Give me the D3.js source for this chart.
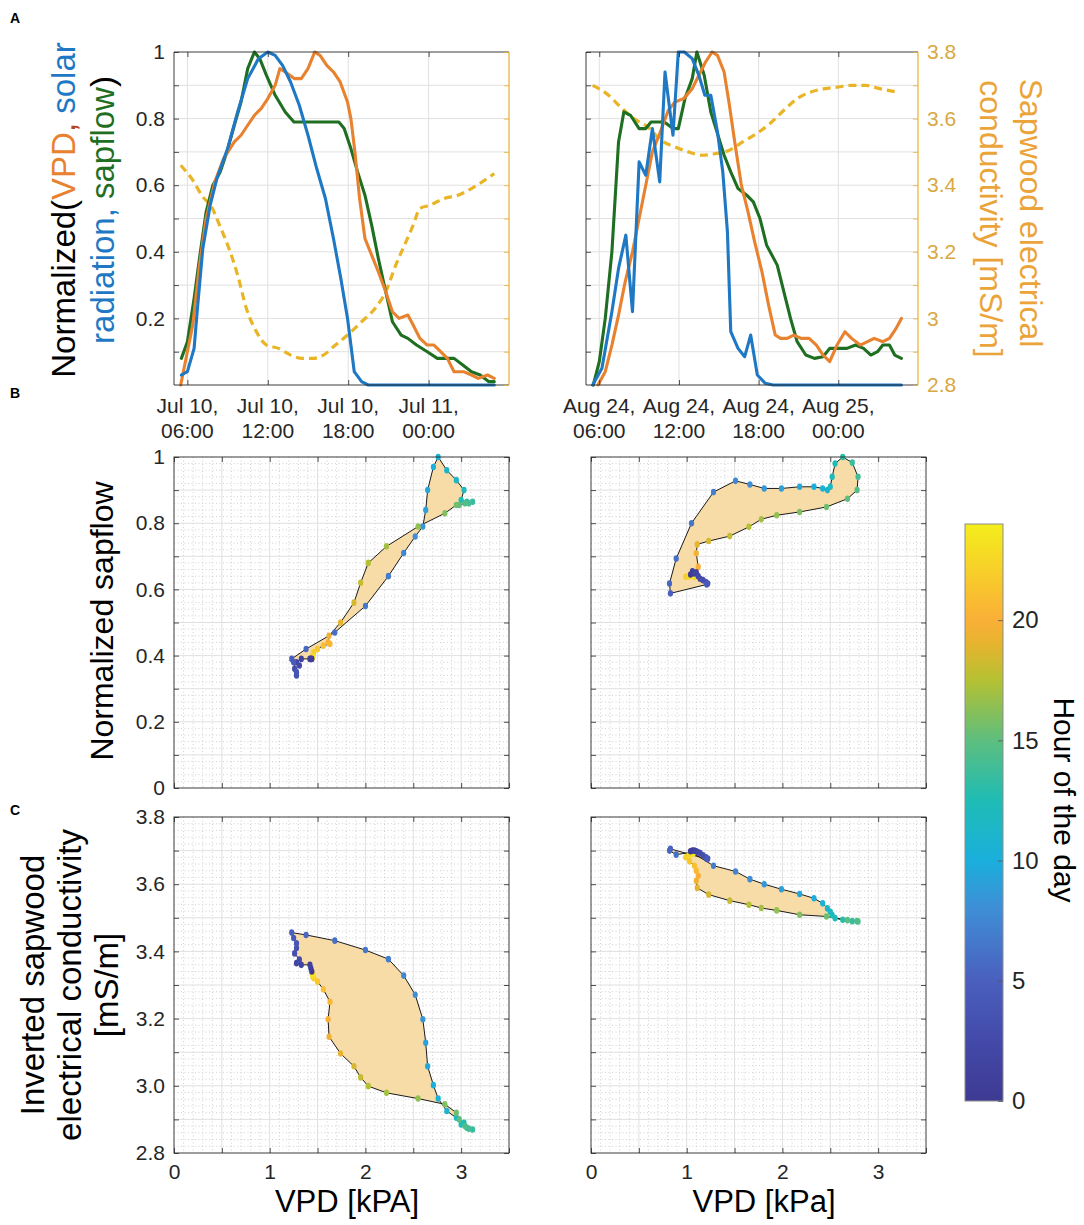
<!DOCTYPE html>
<html>
<head>
<meta charset="utf-8">
<title>Sapflow hysteresis</title>
<script src="https://cdnjs.cloudflare.com/ajax/libs/d3/7.8.5/d3.min.js"></script>
<style>
  body { margin: 0; background: #fff; }
  text { font-family: "Liberation Sans", Arial, Helvetica, sans-serif; }
</style>
</head>
<body>
<script>
// ---- time series, panel A (hour since midnight of the first day, value) ----
var julFlow = [[5.55,0.08],[6,0.13],[6.5,0.26],[6.9,0.38],[7.4,0.52],[7.9,0.6],[8.45,0.64],[8.95,0.7],[9.5,0.78],[10,0.85],[10.5,0.95],[11,1.0],[11.4,0.98],[11.9,0.93],[12.55,0.87],[13.3,0.82],[13.95,0.79],[14.6,0.79],[15.4,0.79],[16.4,0.79],[17.3,0.79],[17.7,0.77],[18.2,0.71],[18.7,0.64],[19.25,0.57],[19.75,0.48],[20.25,0.38],[20.8,0.28],[21.3,0.19],[21.95,0.15],[22.45,0.14],[23.1,0.12],[23.9,0.1],[24.65,0.08],[25.4,0.08],[25.9,0.08],[26.55,0.06],[27.2,0.04],[27.85,0.03],[28.5,0.01],[28.9,0.01]];
var julVpdNorm = [[5.5,0],[6.4,0.18],[6.9,0.36],[7.4,0.5],[8.05,0.61],[8.7,0.68],[9.5,0.73],[10,0.75],[10.5,0.78],[11,0.81],[11.5,0.83],[12,0.86],[12.55,0.9],[12.9,0.95],[13.3,0.94],[14,0.92],[14.5,0.92],[15,0.95],[15.5,1.0],[15.9,0.99],[16.4,0.96],[16.9,0.94],[17.4,0.91],[17.95,0.85],[18.2,0.8],[18.5,0.7],[18.85,0.56],[19.25,0.44],[19.75,0.39],[20.25,0.34],[20.8,0.28],[21.3,0.22],[21.8,0.2],[22.45,0.21],[22.85,0.18],[23.35,0.14],[23.9,0.12],[24.4,0.12],[24.9,0.1],[25.4,0.08],[25.9,0.04],[26.6,0.04],[27.2,0.03],[27.7,0.02],[28.4,0.03],[28.9,0.02]];
var julSolar = [[5.55,0.03],[6,0.04],[6.5,0.11],[6.75,0.23],[7.15,0.41],[7.7,0.54],[8.2,0.62],[9,0.71],[9.75,0.82],[10.5,0.92],[11.3,0.98],[12,1.0],[12.55,0.99],[13.1,0.96],[13.7,0.91],[14.35,0.84],[15,0.75],[15.65,0.65],[16.3,0.56],[16.9,0.44],[17.45,0.32],[17.95,0.2],[18.2,0.12],[18.45,0.04],[19,0.01],[19.5,0],[28.9,0]];
var julCond = [[5.5,3.46],[6.4,3.415],[7.15,3.365],[7.8,3.335],[8.45,3.275],[9.1,3.21],[9.75,3.13],[10.4,3.03],[11.15,2.96],[11.9,2.92],[12.8,2.91],[13.7,2.89],[14.6,2.88],[15.4,2.88],[16.15,2.89],[17.05,2.92],[17.95,2.95],[19,2.99],[20,3.03],[20.8,3.08],[21.55,3.16],[22.2,3.22],[22.85,3.28],[23.35,3.33],[24.1,3.34],[25.15,3.36],[26.2,3.37],[27.2,3.39],[28.9,3.435]];

var augFlow = [[5.55,0],[6,0.07],[6.45,0.2],[6.95,0.4],[7.45,0.73],[7.85,0.82],[8.35,0.81],[9,0.77],[9.5,0.77],[9.9,0.79],[10.4,0.79],[10.9,0.79],[11.55,0.77],[11.95,0.77],[12.45,0.86],[13,0.92],[13.35,1.0],[13.9,0.93],[14.4,0.82],[14.9,0.755],[15.4,0.69],[15.9,0.64],[16.45,0.59],[17.1,0.57],[17.6,0.55],[18.1,0.5],[18.6,0.42],[19.4,0.36],[19.9,0.28],[20.4,0.2],[20.9,0.13],[21.55,0.09],[22.2,0.08],[22.85,0.085],[23.35,0.11],[24,0.11],[24.65,0.11],[25.3,0.12],[25.9,0.11],[26.45,0.09],[26.95,0.1],[27.35,0.12],[27.85,0.12],[28.25,0.09],[28.75,0.08]];
var augVpdNorm = [[5.9,0],[6.45,0.04],[6.95,0.12],[7.45,0.21],[7.95,0.31],[8.5,0.4],[9,0.5],[9.5,0.6],[10,0.7],[10.55,0.755],[11.2,0.825],[11.7,0.85],[12.35,0.86],[13,0.89],[13.5,0.93],[14,0.97],[14.5,1.0],[14.9,0.99],[15.4,0.94],[15.8,0.84],[16.2,0.73],[16.7,0.6],[17.2,0.52],[17.7,0.43],[18.25,0.34],[18.75,0.24],[19.25,0.15],[19.65,0.14],[20.15,0.14],[20.65,0.15],[21.2,0.14],[21.8,0.14],[22.35,0.12],[22.85,0.09],[23.35,0.07],[23.9,0.12],[24.5,0.16],[25,0.14],[25.65,0.12],[26.2,0.13],[26.7,0.14],[27.35,0.13],[27.85,0.14],[28.35,0.17],[28.75,0.2]];
var augSolar = [[5.5,0],[6.2,0.05],[6.95,0.22],[7.45,0.35],[8,0.45],[8.5,0.22],[9,0.67],[9.5,0.63],[10,0.77],[10.55,0.61],[10.95,0.94],[11.55,0.75],[11.95,1.0],[12.4,1.0],[13,0.98],[13.5,0.93],[13.95,0.87],[14.4,0.87],[14.9,0.76],[15.3,0.64],[15.65,0.46],[15.9,0.16],[16.45,0.11],[16.95,0.085],[17.4,0.15],[17.9,0.03],[18.5,0.005],[19.1,0],[28.75,0]];
var augCond = [[5.5,3.7],[6.55,3.675],[7.6,3.635],[8.6,3.6],[9.65,3.575],[10.65,3.535],[11.7,3.515],[12.7,3.5],[13.75,3.49],[14.75,3.495],[15.8,3.505],[16.8,3.53],[17.85,3.555],[18.85,3.585],[19.9,3.625],[20.9,3.66],[21.95,3.68],[23,3.69],[24,3.695],[25,3.7],[26.05,3.7],[27.1,3.69],[28.35,3.68]];

// ---- half-hourly loop samples, panels B and C ----
var loopHours = [5,5.5,6,6.5,7,7.5,8,8.5,9,9.5,10,10.5,11,11.5,12,12.5,13,13.5,14,14.5,15,15.5,16,16.5,17,17.5,18,18.5,19,19.5,20,20.5,21,21.5,22,22.5,23,23.5,24,24.5,25,25.5,26,26.5,27,27.5,28,28.5];

var julVPD  = [1.23,1.38,1.68,2.00,2.24,2.40,2.52,2.60,2.63,2.65,2.71,2.76,2.85,2.95,3.03,3.00,3.06,3.12,3.08,3.04,2.98,2.95,2.83,2.55,2.22,2.03,1.95,1.88,1.74,1.62,1.61,1.63,1.56,1.50,1.46,1.45,1.45,1.44,1.44,1.43,1.42,1.33,1.28,1.31,1.26,1.28,1.28,1.25];
var julSap  = [0.39,0.42,0.47,0.55,0.64,0.71,0.76,0.79,0.84,0.90,0.97,1.00,0.96,0.93,0.90,0.87,0.865,0.865,0.86,0.86,0.855,0.855,0.83,0.79,0.73,0.68,0.62,0.56,0.50,0.46,0.44,0.435,0.43,0.42,0.41,0.40,0.395,0.39,0.39,0.39,0.39,0.39,0.38,0.37,0.36,0.34,0.35,0.38];
var julEC   = [3.456,3.449,3.432,3.404,3.377,3.328,3.271,3.198,3.128,3.058,3.002,2.962,2.925,2.905,2.89,2.885,2.875,2.87,2.872,2.88,2.9,2.92,2.945,2.962,2.979,2.999,3.025,3.058,3.096,3.146,3.198,3.25,3.287,3.31,3.32,3.325,3.33,3.335,3.34,3.35,3.36,3.36,3.365,3.376,3.394,3.41,3.424,3.44];

var augVPD  = [0.83,0.82,0.89,1.05,1.28,1.51,1.66,1.81,1.99,2.18,2.33,2.42,2.47,2.50,2.52,2.55,2.63,2.73,2.79,2.78,2.68,2.46,2.18,1.94,1.78,1.65,1.45,1.23,1.11,1.10,1.12,1.10,1.08,1.03,0.99,1.02,1.05,1.07,1.04,1.06,1.08,1.10,1.12,1.14,1.17,1.20,1.22,1.21];
var augSap  = [0.588,0.618,0.693,0.80,0.894,0.928,0.917,0.905,0.905,0.91,0.91,0.905,0.90,0.91,0.94,0.98,1.00,0.983,0.94,0.90,0.874,0.849,0.834,0.824,0.812,0.789,0.761,0.746,0.736,0.709,0.668,0.65,0.638,0.64,0.638,0.64,0.645,0.64,0.645,0.655,0.648,0.652,0.64,0.632,0.628,0.622,0.618,0.615];
var augEC   = [3.705,3.7,3.688,3.695,3.655,3.638,3.615,3.6,3.585,3.571,3.558,3.543,3.528,3.518,3.508,3.499,3.494,3.49,3.489,3.49,3.493,3.504,3.509,3.522,3.529,3.539,3.551,3.569,3.589,3.61,3.625,3.64,3.655,3.668,3.68,3.685,3.69,3.693,3.698,3.7,3.7,3.698,3.695,3.693,3.686,3.68,3.676,3.675];

// ---- ticks ----
var timeTickHours = [6, 12, 18, 24];
var normTicks = [0,0.1,0.2,0.3,0.4,0.5,0.6,0.7,0.8,0.9,1];
var normLabels = [0.2,0.4,0.6,0.8,1];
var sapLabels = [0,0.2,0.4,0.6,0.8,1];
var condTicks = [2.8,2.9,3.0,3.1,3.2,3.3,3.4,3.5,3.6,3.7,3.8];
var condLabels = [2.8,3.0,3.2,3.4,3.6,3.8];
var vpdTicks = [0,0.5,1,1.5,2,2.5,3,3.5];
var vpdLabels = [0,1,2,3];
var hourTicks = [0,5,10,15,20];

// parula-like colormap, anchors sampled from the colorbar
var cmapStops  = [0,2.4,5,8,10,12.5,15,17.5,19,20,22,24];
var cmapColors = ["#3e3a93","#4349a8","#4a5fbe","#3f8ed6","#1aafdc","#1fbcb5","#5dbe7e","#b5c133","#e6b42e","#faaf37","#f7ce2a","#f4ee1c"];

var font = "'Liberation Sans', Arial, Helvetica, sans-serif";
var axisGray = "#262626", gridGray = "#e0e0e0", minorGray = "#bdbdbd";
var cVPD = "#e8822e", cSolar = "#1f78c4", cFlow = "#1f6f22", cEC = "#e9b526";
var cAxisR = "#e8b030", cTickR = "#d8a842", cLabelR = "#eaa43a";
var loopFill = "#f7dca8";

var day1 = new Date(2019, 6, 10), day2 = new Date(2019, 7, 24);
var fmtDay = d3.timeFormat("%b %d,"), fmtTime = d3.timeFormat("%H:%M");
var hourColor = d3.scaleLinear().domain(cmapStops).range(cmapColors);

var svg = d3.select("body").append("svg").attr("width", 1084).attr("height", 1225);
svg.append("rect").attr("width", 1084).attr("height", 1225).attr("fill", "#fff");

function atHour(day, h) { return new Date(day.getTime() + h * 3600e3); }

function styleAxis(sel, color, size) {
    sel.select(".domain").remove();
    sel.attr("font-family", font).attr("font-size", size);
    sel.selectAll(".tick line").attr("stroke", color).attr("stroke-width", 0.8);
    sel.selectAll(".tick text").attr("fill", color);
}

function drawTop(box, day, flow, vpd, solar, cond, showLeft, showRight) {
    var x = d3.scaleTime().domain([atHour(day, 5), atHour(day, 30)]).range([box.x0, box.x1]);
    var y = d3.scaleLinear().domain([0, 1]).range([box.y1, box.y0]);
    var yR = d3.scaleLinear().domain([2.8, 3.8]).range([box.y1, box.y0]);
    var tickDates = timeTickHours.map(function (h) { return atHour(day, h); });
    var g = svg.append("g");

    g.append("g").selectAll("line").data(normTicks.slice(1, -1)).join("line")
        .attr("x1", box.x0).attr("x2", box.x1)
        .attr("y1", function (d) { return y(d); }).attr("y2", function (d) { return y(d); })
        .attr("stroke", gridGray);
    g.append("g").selectAll("line").data(tickDates).join("line")
        .attr("x1", function (d) { return x(d); }).attr("x2", function (d) { return x(d); })
        .attr("y1", box.y0).attr("y2", box.y1)
        .attr("stroke", gridGray);

    var lineN = d3.line().x(function (d) { return x(atHour(day, d[0])); }).y(function (d) { return y(d[1]); });
    var lineC = d3.line().x(function (d) { return x(atHour(day, d[0])); }).y(function (d) { return yR(d[1]); })
        .curve(d3.curveMonotoneX);

    g.append("path").attr("d", lineC(cond)).attr("fill", "none")
        .attr("stroke", cEC).attr("stroke-width", 3.2).attr("stroke-dasharray", "8,5");
    [[flow, cFlow], [vpd, cVPD], [solar, cSolar]].forEach(function (s) {
        g.append("path").attr("d", lineN(s[0])).attr("fill", "none")
            .attr("stroke", s[1]).attr("stroke-width", 3.1)
            .attr("stroke-linejoin", "round").attr("stroke-linecap", "round");
    });

    // box: dark on three sides, yellow right axis
    g.append("path").attr("d", "M" + box.x1 + "," + box.y0 + "H" + box.x0 + "V" + box.y1 + "H" + box.x1)
        .attr("fill", "none").attr("stroke", axisGray).attr("stroke-width", 0.9);
    g.append("line").attr("x1", box.x1).attr("x2", box.x1).attr("y1", box.y0).attr("y2", box.y1)
        .attr("stroke", cAxisR).attr("stroke-width", 1.2);

    var ab = g.append("g").attr("transform", "translate(0," + box.y1 + ")")
        .call(d3.axisBottom(x).tickValues(tickDates).tickSize(-5).tickFormat(""));
    styleAxis(ab, axisGray, 21);
    var at = g.append("g").attr("transform", "translate(0," + box.y0 + ")")
        .call(d3.axisTop(x).tickValues(tickDates).tickSize(-5).tickFormat(""));
    styleAxis(at, axisGray, 21);

    tickDates.forEach(function (d) {
        var t = g.append("text").attr("text-anchor", "middle").attr("fill", axisGray)
            .attr("font-size", 21);
        t.append("tspan").attr("x", x(d)).attr("y", 413).text(fmtDay(d));
        t.append("tspan").attr("x", x(d)).attr("y", 438).text(fmtTime(d));
    });

    var al = g.append("g").attr("transform", "translate(" + box.x0 + ",0)")
        .call(d3.axisLeft(y).tickValues(normTicks.slice(1)).tickSize(-5).tickPadding(9)
            .tickFormat(function (d) { return showLeft && normLabels.indexOf(d) >= 0 ? d3.format("~g")(d) : ""; }));
    styleAxis(al, axisGray, 21);

    var ar = g.append("g").attr("transform", "translate(" + box.x1 + ",0)")
        .call(d3.axisRight(yR).tickValues(condTicks).tickSize(-5).tickPadding(9)
            .tickFormat(function (d) { return showRight && condLabels.indexOf(d) >= 0 ? d3.format("~g")(d) : ""; }));
    styleAxis(ar, cAxisR, 21);
    ar.selectAll(".tick text").attr("fill", cTickR);
}

function drawLoop(box, yDom, yTicks, yLabels, yFmt, vpd, yv, showY, showX) {
    var x = d3.scaleLinear().domain([0, 3.5]).range([box.x0, box.x1]);
    var y = d3.scaleLinear().domain(yDom).range([box.y1, box.y0]);
    var g = svg.append("g");

    var xMinor = d3.range(0.1, 3.45, 0.1).filter(function (v) { return Math.abs(v * 2 - Math.round(v * 2)) > 1e-6; });
    var yMinor = d3.range(yDom[0] + 0.02, yDom[1] - 0.001, 0.02).filter(function (v) { return Math.abs(v * 10 - Math.round(v * 10)) > 1e-6; });

    g.append("g").selectAll("line").data(xMinor).join("line")
        .attr("x1", function (d) { return x(d); }).attr("x2", function (d) { return x(d); })
        .attr("y1", box.y0).attr("y2", box.y1)
        .attr("stroke", minorGray).attr("stroke-width", 0.7).attr("stroke-dasharray", "1,2.5");
    g.append("g").selectAll("line").data(yMinor).join("line")
        .attr("x1", box.x0).attr("x2", box.x1)
        .attr("y1", function (d) { return y(d); }).attr("y2", function (d) { return y(d); })
        .attr("stroke", minorGray).attr("stroke-width", 0.7).attr("stroke-dasharray", "1,2.5");
    g.append("g").selectAll("line").data(vpdTicks.slice(1, -1)).join("line")
        .attr("x1", function (d) { return x(d); }).attr("x2", function (d) { return x(d); })
        .attr("y1", box.y0).attr("y2", box.y1).attr("stroke", gridGray);
    g.append("g").selectAll("line").data(yTicks.slice(1, -1)).join("line")
        .attr("x1", box.x0).attr("x2", box.x1)
        .attr("y1", function (d) { return y(d); }).attr("y2", function (d) { return y(d); })
        .attr("stroke", gridGray);

    var pts = vpd.map(function (v, i) { return [x(v), y(yv[i])]; });
    g.append("path").attr("d", d3.line()(pts) + "Z")
        .attr("fill", loopFill).attr("stroke", "#1a1a1a").attr("stroke-width", 1)
        .attr("stroke-linejoin", "round");
    g.append("g").selectAll("ellipse").data(loopHours).join("ellipse")
        .attr("cx", function (h, i) { return pts[i][0]; })
        .attr("cy", function (h, i) { return pts[i][1]; })
        .attr("rx", 2.6).attr("ry", 3.3)
        .attr("fill", function (h) { return hourColor(h % 24); });

    g.append("rect").attr("x", box.x0).attr("y", box.y0)
        .attr("width", box.x1 - box.x0).attr("height", box.y1 - box.y0)
        .attr("fill", "none").attr("stroke", axisGray).attr("stroke-width", 0.9);

    var ab = g.append("g").attr("transform", "translate(0," + box.y1 + ")")
        .call(d3.axisBottom(x).tickValues(vpdTicks).tickSize(-5).tickPadding(11)
            .tickFormat(function (d) { return showX && vpdLabels.indexOf(d) >= 0 ? String(d) : ""; }));
    styleAxis(ab, axisGray, 21);
    var at = g.append("g").attr("transform", "translate(0," + box.y0 + ")")
        .call(d3.axisTop(x).tickValues(vpdTicks).tickSize(-5).tickFormat(""));
    styleAxis(at, axisGray, 21);
    var al = g.append("g").attr("transform", "translate(" + box.x0 + ",0)")
        .call(d3.axisLeft(y).tickValues(yTicks).tickSize(-5).tickPadding(9)
            .tickFormat(function (d) { return showY && yLabels.indexOf(d) >= 0 ? yFmt(d) : ""; }));
    styleAxis(al, axisGray, 21);
    var ar = g.append("g").attr("transform", "translate(" + box.x1 + ",0)")
        .call(d3.axisRight(y).tickValues(yTicks).tickSize(-5).tickFormat(""));
    styleAxis(ar, axisGray, 21);
}

var topL = {x0: 174, x1: 509, y0: 52, y1: 385};
var topR = {x0: 586, x1: 918, y0: 52, y1: 385};
var midL = {x0: 174, x1: 509, y0: 457, y1: 788};
var midR = {x0: 591, x1: 926, y0: 457, y1: 788};
var botL = {x0: 174, x1: 509, y0: 817, y1: 1153};
var botR = {x0: 591, x1: 926, y0: 817, y1: 1153};
var cbar = {x0: 965, x1: 1003, y0: 524, y1: 1101};

drawTop(topL, day1, julFlow, julVpdNorm, julSolar, julCond, true, false);
drawTop(topR, day2, augFlow, augVpdNorm, augSolar, augCond, false, true);
drawLoop(midL, [0, 1], normTicks, sapLabels, d3.format("~g"), julVPD, julSap, true, false);
drawLoop(midR, [0, 1], normTicks, sapLabels, d3.format("~g"), augVPD, augSap, false, false);
drawLoop(botL, [2.8, 3.8], condTicks, condLabels, d3.format(".1f"), julVPD, julEC, true, true);
drawLoop(botR, [2.8, 3.8], condTicks, condLabels, d3.format(".1f"), augVPD, augEC, false, true);

// ---- colorbar ----
var cy = d3.scaleLinear().domain([0, 24]).range([cbar.y1, cbar.y0]);
var grad = svg.append("defs").append("linearGradient").attr("id", "hourGrad")
    .attr("x1", 0).attr("y1", 1).attr("x2", 0).attr("y2", 0);
grad.selectAll("stop").data(cmapStops).join("stop")
    .attr("offset", function (d) { return d / 24; })
    .attr("stop-color", function (d) { return hourColor(d); });
svg.append("rect").attr("x", cbar.x0).attr("y", cbar.y0)
    .attr("width", cbar.x1 - cbar.x0).attr("height", cbar.y1 - cbar.y0)
    .attr("fill", "url(#hourGrad)").attr("stroke", "#8c8c8c").attr("stroke-width", 1);
var cax = svg.append("g").attr("transform", "translate(" + cbar.x1 + ",0)")
    .call(d3.axisRight(cy).tickValues(hourTicks).tickSize(-5).tickPadding(9));
styleAxis(cax, axisGray, 24);
cax.selectAll(".tick line").attr("stroke", "#555");

// ---- axis titles ----
function rotLabel(x, y, angle, size, parts, fill) {
    var t = svg.append("text").attr("transform", "translate(" + x + "," + y + ") rotate(" + angle + ")")
        .attr("text-anchor", "middle").attr("font-size", size).attr("fill", fill || "#000");
    parts.forEach(function (p) { t.append("tspan").attr("fill", p[1]).text(p[0]); });
    return t;
}

rotLabel(75, 210, -90, 33, [["Normalized(", "#000"], ["VPD", cVPD], [",", "#b8432c"], [" solar", cSolar]]);
rotLabel(114, 210, -90, 33, [["radiation,", cSolar], [" sapflow", cFlow], [")", "#000"]]);
rotLabel(1020, 213, 90, 32, [["Sapwood electrical", cLabelR]]);
rotLabel(980, 219, 90, 32, [["conductivity [mS/m]", cLabelR]]);
rotLabel(113, 621, -90, 32, [["Normalized sapflow", "#000"]]);
rotLabel(44, 985, -90, 33, [["Inverted sapwood", "#000"]]);
rotLabel(81, 985, -90, 33, [["electrical conductivity", "#000"]]);
rotLabel(118, 985, -90, 33, [["[mS/m]", "#000"]]);
rotLabel(1054, 800, 90, 30, [["Hour of the day", "#000"]]);

svg.append("text").attr("x", 347).attr("y", 1212).attr("text-anchor", "middle")
    .attr("font-size", 31).text("VPD [kPA]");
svg.append("text").attr("x", 764).attr("y", 1212).attr("text-anchor", "middle")
    .attr("font-size", 31).text("VPD [kPa]");

// panel letters
[["A", 23], ["B", 398], ["C", 815]].forEach(function (p) {
    svg.append("text").attr("x", 10).attr("y", p[1]).attr("font-size", 14)
        .attr("font-weight", "bold").text(p[0]);
});
</script>
</body>
</html>
